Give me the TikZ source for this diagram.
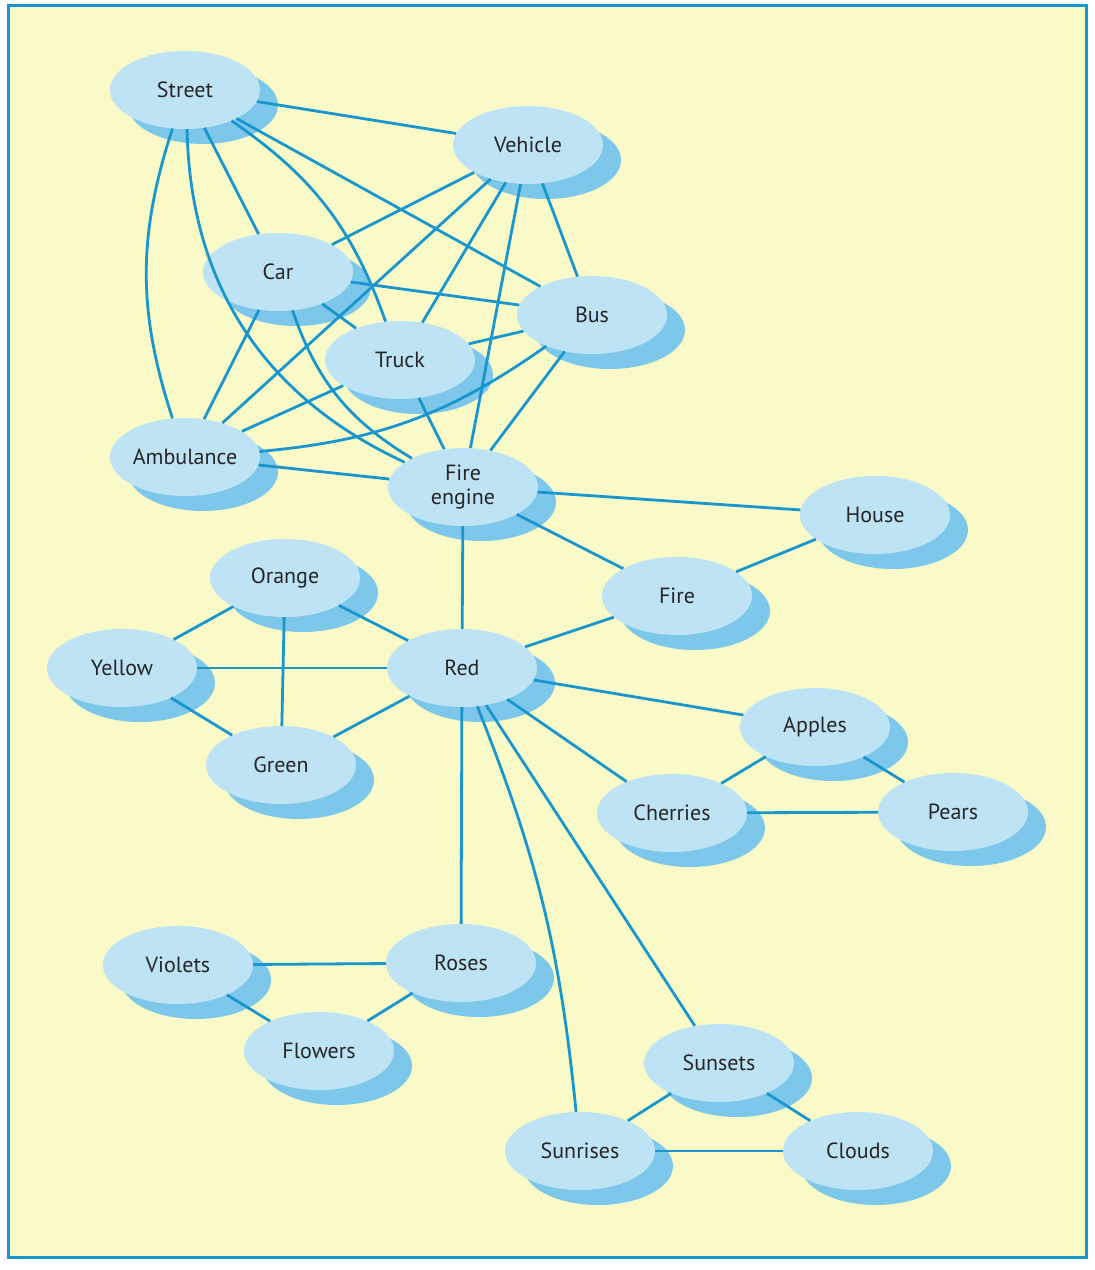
\documentclass[tikz,border=0pt]{standalone}
\usepackage{fontspec}
\setmainfont{PT Sans}
\usetikzlibrary{shapes.geometric}
\definecolor{bg}{HTML}{FAFAC8}
\definecolor{lb}{HTML}{BEE3F5}
\definecolor{sb}{HTML}{7DC8EA}
\definecolor{eb}{HTML}{1A96CF}
\begin{document}
\begin{tikzpicture}[x=1pt,y=-1pt,
  nd/.style={ellipse,fill=lb,minimum width=150pt,minimum height=78pt,inner sep=0pt,font=\fontsize{22}{24}\selectfont,align=center,text=black!85},
  sh/.style={ellipse,fill=sb,minimum width=150pt,minimum height=78pt},
  ed/.style={draw=eb,line width=2.8pt}]
\useasboundingbox (0,0) rectangle (1095,1270);
\fill[white] (0,0) rectangle (1095,1270);
\filldraw[fill=bg,draw=eb,line width=3pt] (8,5) rectangle (1086,1257);
\foreach \x/\y in {185/90,528/145,278/272,592/315,400/360,185/457,463/487,875/515,677/596,285/578,122/668,462/668,281/765,815/727,672/813,953/812,178/965,461/963,319/1051,719/1063,580/1151,858/1151}
  \node[sh] at (\x+18,\y+15) {};
% invisible geometry nodes for edge clipping
\foreach \n/\x/\y in {st/185/90,ve/528/145,ca/278/272,bu/592/315,tr/400/360,am/185/457,fe/463/487,ho/875/515,fi/677/596,or/285/578,ye/122/668,re/462/668,gr/281/765,ap/815/727,ch/672/813,pe/953/812,vi/178965/0,ro/461/963,fl/319/1051,su/719/1063,sr/580/1151,cl/858/1151}
  {}
\begin{scope}[every node/.style={nd}]
\node (st) at (185,90) {Street};
\node (ve) at (528,145) {Vehicle};
\node (ca) at (278,272) {Car};
\node (bu) at (592,315) {Bus};
\node (tr) at (400,360) {Truck};
\node (am) at (185,457) {Ambulance};
\node (fe) at (463,487) {Fire\\engine};
\node (ho) at (875,515) {House};
\node (fi) at (677,596) {Fire};
\node (or) at (285,578) {Orange};
\node (ye) at (122,668) {Yellow};
\node (re) at (462,668) {Red};
\node (gr) at (281,765) {Green};
\node (ap) at (815,727) {Apples};
\node (ch) at (672,813) {Cherries};
\node (pe) at (953,812) {Pears};
\node (vi) at (178,965) {Violets};
\node (ro) at (461,963) {Roses};
\node (fl) at (319,1051) {Flowers};
\node (su) at (719,1063) {Sunsets};
\node (sr) at (580,1151) {Sunrises};
\node (cl) at (858,1151) {Clouds};
\end{scope}
\begin{scope}[on background layer/.try]
\end{scope}
\draw[ed] (st) -- (ve);
\draw[ed] (st) to[bend right=18] (am);
\draw[ed] (st) to[bend right=32] (fe);
\draw[ed] (st) -- (ca);
\draw[ed] (st) to[bend left=18] (tr);
\draw[ed] (st) -- (bu);
\draw[ed] (ve) -- (ca);
\draw[ed] (ve) -- (am);
\draw[ed] (ve) -- (tr);
\draw[ed] (ve) -- (fe);
\draw[ed] (ve) -- (bu);
\draw[ed] (ca) -- (bu);
\draw[ed] (ca) -- (tr);
\draw[ed] (ca) -- (am);
\draw[ed] (ca) to[bend right=20] (fe);
\draw[ed] (tr) -- (bu);
\draw[ed] (tr) -- (am);
\draw[ed] (tr) -- (fe);
\draw[ed] (bu) to[bend left=15] (am);
\draw[ed] (bu) -- (fe);
\draw[ed] (am) -- (fe);
\draw[ed] (fe) -- (ho);
\draw[ed] (fe) -- (fi);
\draw[ed] (fe) -- (re);
\draw[ed] (ho) -- (fi);
\draw[ed] (fi) -- (re);
\draw[ed] (re) -- (or);
\draw[ed] (re) -- (ye);
\draw[ed] (re) -- (gr);
\draw[ed] (or) -- (ye);
\draw[ed] (or) -- (gr);
\draw[ed] (ye) -- (gr);
\draw[ed] (re) -- (ap);
\draw[ed] (re) -- (ch);
\draw[ed] (ap) -- (ch);
\draw[ed] (ap) -- (pe);
\draw[ed] (ch) -- (pe);
\draw[ed] (re) -- (ro);
\draw[ed] (re) to[bend left=8] (sr);
\draw[ed] (re) -- (su);
\draw[ed] (vi) -- (ro);
\draw[ed] (vi) -- (fl);
\draw[ed] (ro) -- (fl);
\draw[ed] (su) -- (sr);
\draw[ed] (su) -- (cl);
\draw[ed] (sr) -- (cl);
\end{tikzpicture}
\end{document}
